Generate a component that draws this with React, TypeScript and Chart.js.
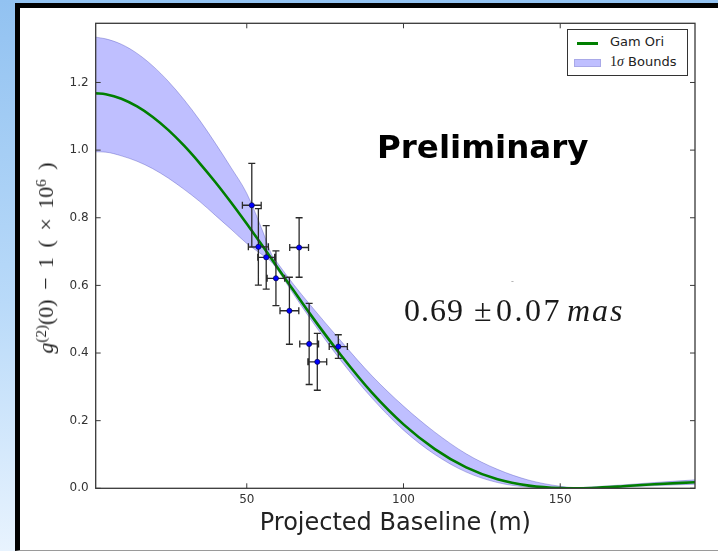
import React, { useEffect, useRef } from "react";
import { Chart, registerables } from "chart.js";

Chart.register(...registerables);

// ---- data ----
const baselineGrid = [1.8, 5, 10, 15, 20, 25, 30, 35, 40, 45, 50, 55, 58, 60, 65, 70, 80, 90, 100, 110, 120, 130, 140, 150, 155, 160, 170, 180, 193];
const fitCurve = [1.168, 1.165, 1.152, 1.129, 1.098, 1.059, 1.013, 0.961, 0.905, 0.845, 0.782, 0.717, 0.677, 0.650, 0.584, 0.518, 0.394, 0.282, 0.189, 0.116, 0.062, 0.027, 0.008, 0.0005, 0.0, 0.001, 0.006, 0.012, 0.018];
const upperBound = [1.334, 1.329, 1.313, 1.286, 1.249, 1.203, 1.149, 1.088, 1.020, 0.948, 0.872, 0.762, 0.690, 0.664, 0.602, 0.545, 0.436, 0.332, 0.243, 0.166, 0.102, 0.056, 0.024, 0.006, 0.002, 0.004, 0.010, 0.017, 0.025];
const lowerBound = [0.995, 0.994, 0.983, 0.967, 0.945, 0.917, 0.884, 0.848, 0.807, 0.766, 0.724, 0.690, 0.668, 0.643, 0.573, 0.505, 0.378, 0.266, 0.172, 0.100, 0.048, 0.017, 0.003, 0.0, 0.0, 0.0, 0.003, 0.008, 0.012];

const obsBaseline = [51.6, 53.7, 56.2, 59.3, 63.6, 66.7, 69.9, 72.5, 79.2];
const obsValue = [0.837, 0.714, 0.683, 0.621, 0.525, 0.712, 0.427, 0.374, 0.419];
const obsErrY = [0.124, 0.113, 0.094, 0.081, 0.099, 0.088, 0.12, 0.084, 0.035];
const obsErrX = [3.0, 3.2, 2.7, 2.8, 3.0, 3.0, 3.0, 3.0, 2.9];

const xTicks = [50, 100, 150];
const yTicks = [0, 0.2, 0.4, 0.6, 0.8, 1.0, 1.2];
const xMin = 1.8;
const xMax = 193;
const yMin = 0;
const yMax = 1.375;

const seriesNames = ["Gam Ori", "1σ Bounds"];

const errorBarPlugin = {
  id: "errorBars",
  beforeDatasetDraw(chart: any, args: any) {
    if (args.index !== 3) return;
    const { ctx, scales } = chart;
    const x = scales.x;
    const y = scales.y;
    ctx.save();
    ctx.strokeStyle = "#2a2a2a";
    ctx.lineWidth = 1.3;
    const cap = 3.5;
    ctx.beginPath();
    obsBaseline.forEach((b, i) => {
      const px = x.getPixelForValue(b);
      const py = y.getPixelForValue(obsValue[i]);
      const y0 = y.getPixelForValue(obsValue[i] - obsErrY[i]);
      const y1 = y.getPixelForValue(obsValue[i] + obsErrY[i]);
      const x0 = x.getPixelForValue(b - obsErrX[i]);
      const x1 = x.getPixelForValue(b + obsErrX[i]);
      ctx.moveTo(px, y0);
      ctx.lineTo(px, y1);
      ctx.moveTo(x0, py);
      ctx.lineTo(x1, py);
      ctx.moveTo(px - cap, y0);
      ctx.lineTo(px + cap, y0);
      ctx.moveTo(px - cap, y1);
      ctx.lineTo(px + cap, y1);
      ctx.moveTo(x0, py - cap);
      ctx.lineTo(x0, py + cap);
      ctx.moveTo(x1, py - cap);
      ctx.lineTo(x1, py + cap);
    });
    ctx.stroke();
    ctx.restore();
  },
};

const framePlugin = {
  id: "frame",
  afterDatasetsDraw(chart: any) {
    const { ctx, chartArea, scales } = chart;
    const { left, right, top, bottom } = chartArea;
    ctx.save();
    ctx.strokeStyle = "#383838";
    ctx.lineWidth = 1.3;
    ctx.strokeRect(left, top, right - left, bottom - top);
    ctx.beginPath();
    ctx.lineWidth = 1;
    yTicks.forEach((v) => {
      const p = scales.y.getPixelForValue(v);
      ctx.moveTo(left, p);
      ctx.lineTo(left + 5, p);
      ctx.moveTo(right, p);
      ctx.lineTo(right - 5, p);
    });
    xTicks.forEach((v) => {
      const p = scales.x.getPixelForValue(v);
      ctx.moveTo(p, bottom);
      ctx.lineTo(p, bottom - 5);
      ctx.moveTo(p, top);
      ctx.lineTo(p, top + 5);
    });
    ctx.stroke();
    ctx.restore();
  },
};

function toPoints(xs: number[], ys: number[]) {
  return xs.map((x, i) => ({ x, y: ys[i] }));
}

export default function App() {
  const canvasRef = useRef<HTMLCanvasElement | null>(null);

  useEffect(() => {
    if (!canvasRef.current) return;
    const bandFill = "rgba(0,0,255,0.25)";
    const bandEdge = "rgba(40,40,170,0.3)";
    const chart = new Chart(canvasRef.current, {
      type: "line",
      data: {
        datasets: [
          {
            label: "upper",
            data: toPoints(baselineGrid, upperBound),
            borderColor: bandEdge,
            borderWidth: 1,
            backgroundColor: bandFill,
            fill: "+1",
            pointRadius: 0,
            cubicInterpolationMode: "monotone",
            order: 3,
          },
          {
            label: "lower",
            data: toPoints(baselineGrid, lowerBound),
            borderColor: bandEdge,
            borderWidth: 1,
            fill: false,
            pointRadius: 0,
            cubicInterpolationMode: "monotone",
            order: 2,
          },
          {
            label: seriesNames[0],
            data: toPoints(baselineGrid, fitCurve),
            borderColor: "#007f00",
            borderWidth: 2.6,
            fill: false,
            pointRadius: 0,
            cubicInterpolationMode: "monotone",
            order: 1,
          },
          {
            type: "scatter",
            label: "data",
            data: toPoints(obsBaseline, obsValue),
            backgroundColor: "#0000ff",
            borderColor: "#000033",
            borderWidth: 0.6,
            pointRadius: 2.6,
            showLine: false,
            order: 0,
          } as any,
        ],
      },
      options: {
        responsive: false,
        animation: false,
        layout: { padding: { left: 0, top: 15.3, right: 23, bottom: 0 } },
        plugins: {
          legend: { display: false },
          tooltip: { enabled: false },
        },
        scales: {
          x: {
            type: "linear",
            min: xMin,
            max: xMax,
            grid: { display: false, drawTicks: false },
            border: { display: false },
            afterBuildTicks: (scale: any) => {
              scale.ticks = xTicks.map((v) => ({ value: v }));
            },
            afterFit: (scale: any) => {
              scale.height = 61.7;
            },
            ticks: {
              color: "#333",
              font: { family: "DejaVu Sans", size: 12 },
              padding: 4,
              maxRotation: 0,
              callback: (v: any) => String(v),
            },
            title: {
              display: true,
              text: "Projected Baseline (m)",
              color: "#222",
              font: { family: "DejaVu Sans", size: 24 },
              padding: { top: 0, bottom: 11.4 },
            },
          },
          y: {
            type: "linear",
            min: yMin,
            max: yMax,
            grid: { display: false, drawTicks: false },
            border: { display: false },
            afterBuildTicks: (scale: any) => {
              scale.ticks = yTicks.map((v) => ({ value: v }));
            },
            afterFit: (scale: any) => {
              scale.width = 75.7;
            },
            ticks: {
              color: "#333",
              font: { family: "DejaVu Sans", size: 12 },
              padding: 7,
              callback: (v: any) => Number(v).toFixed(1),
            },
          },
        },
      },
      plugins: [errorBarPlugin, framePlugin],
    });
    return () => chart.destroy();
  }, []);

  const serif = "'Liberation Serif', 'DejaVu Serif', serif";
  const sup = { fontSize: 15, verticalAlign: "0.45em", lineHeight: 0 } as const;
  const big = { position: "absolute", top: 293.5, fontFamily: serif, fontSize: 32, lineHeight: 1, whiteSpace: "nowrap", color: "#1a1a1a" } as const;

  return (
    <div
      style={{
        position: "fixed",
        left: 0,
        top: 0,
        width: 718,
        height: 551,
        overflow: "hidden",
        background: "linear-gradient(180deg, #92c2f1 0%, #b9daf9 55%, #e8f3fe 100%)",
      }}
    >
      <div
        style={{
          position: "absolute",
          left: 15,
          top: 3,
          width: 720,
          height: 548,
          boxSizing: "border-box",
          background: "#fff",
          borderLeft: "5px solid #000",
          borderTop: "5px solid #000",
          borderBottom: "1px solid #9a9a9a",
        }}
      />
      <canvas
        ref={canvasRef}
        width={698}
        height={542}
        style={{ position: "absolute", left: 20, top: 8, width: 698, height: 542 }}
      />
      {/* y axis title */}
      <div
        style={{
          position: "absolute",
          left: 46,
          top: 258,
          transform: "translate(-50%, -50%) rotate(-90deg)",
          whiteSpace: "nowrap",
          fontFamily: serif,
          fontSize: 22,
          lineHeight: 1,
          wordSpacing: 4,
          color: "#222",
        }}
      >
        <i>g</i>
        <sup style={sup}>(2)</sup>(0) − 1 ( × 10
        <sup style={sup}>6</sup> )
      </div>
      {/* legend */}
      <div
        style={{
          position: "absolute",
          left: 567,
          top: 29,
          width: 121,
          height: 47,
          boxSizing: "border-box",
          border: "1px solid #333",
          background: "#fff",
          fontFamily: "DejaVu Sans",
          fontSize: 13,
          color: "#222",
        }}
      >
        <div style={{ position: "absolute", left: 9, top: 12, width: 21, height: 2.6, background: "#007f00" }} />
        <div
          style={{
            position: "absolute",
            left: 6,
            top: 28.5,
            width: 27,
            height: 8.5,
            boxSizing: "border-box",
            background: "#bfbfff",
            border: "1px solid #a9a9e8",
          }}
        />
        <div style={{ position: "absolute", left: 42, top: 4, lineHeight: "16px", whiteSpace: "nowrap" }}>{seriesNames[0]}</div>
        <div style={{ position: "absolute", left: 42, top: 24, lineHeight: "16px", whiteSpace: "nowrap" }}>
          <span style={{ fontFamily: serif, fontSize: 14 }}>
            1<i>σ</i>
          </span>{" "}
          Bounds
        </div>
      </div>
      {/* Preliminary */}
      <div
        style={{
          position: "absolute",
          left: 377,
          top: 131,
          fontFamily: "DejaVu Sans",
          fontWeight: "bold",
          fontSize: 32.5,
          lineHeight: 1,
          whiteSpace: "nowrap",
          color: "#000",
        }}
      >
        Preliminary
      </div>
      {/* angular diameter */}
      <div style={{ ...big, left: 404, letterSpacing: 1 }}>0.69</div>
      <div style={{ ...big, left: 474 }}>±</div>
      <div style={{ ...big, left: 496, letterSpacing: 2.5 }}>0.07</div>
      <div style={{ ...big, left: 567, fontStyle: "italic", letterSpacing: 2 }}>mas</div>
      <div
        style={{
          position: "absolute",
          left: 511,
          top: 278,
          fontFamily: "DejaVu Sans",
          fontSize: 8,
          lineHeight: 1,
          color: "#999",
        }}
      >
        -
      </div>
    </div>
  );
}
